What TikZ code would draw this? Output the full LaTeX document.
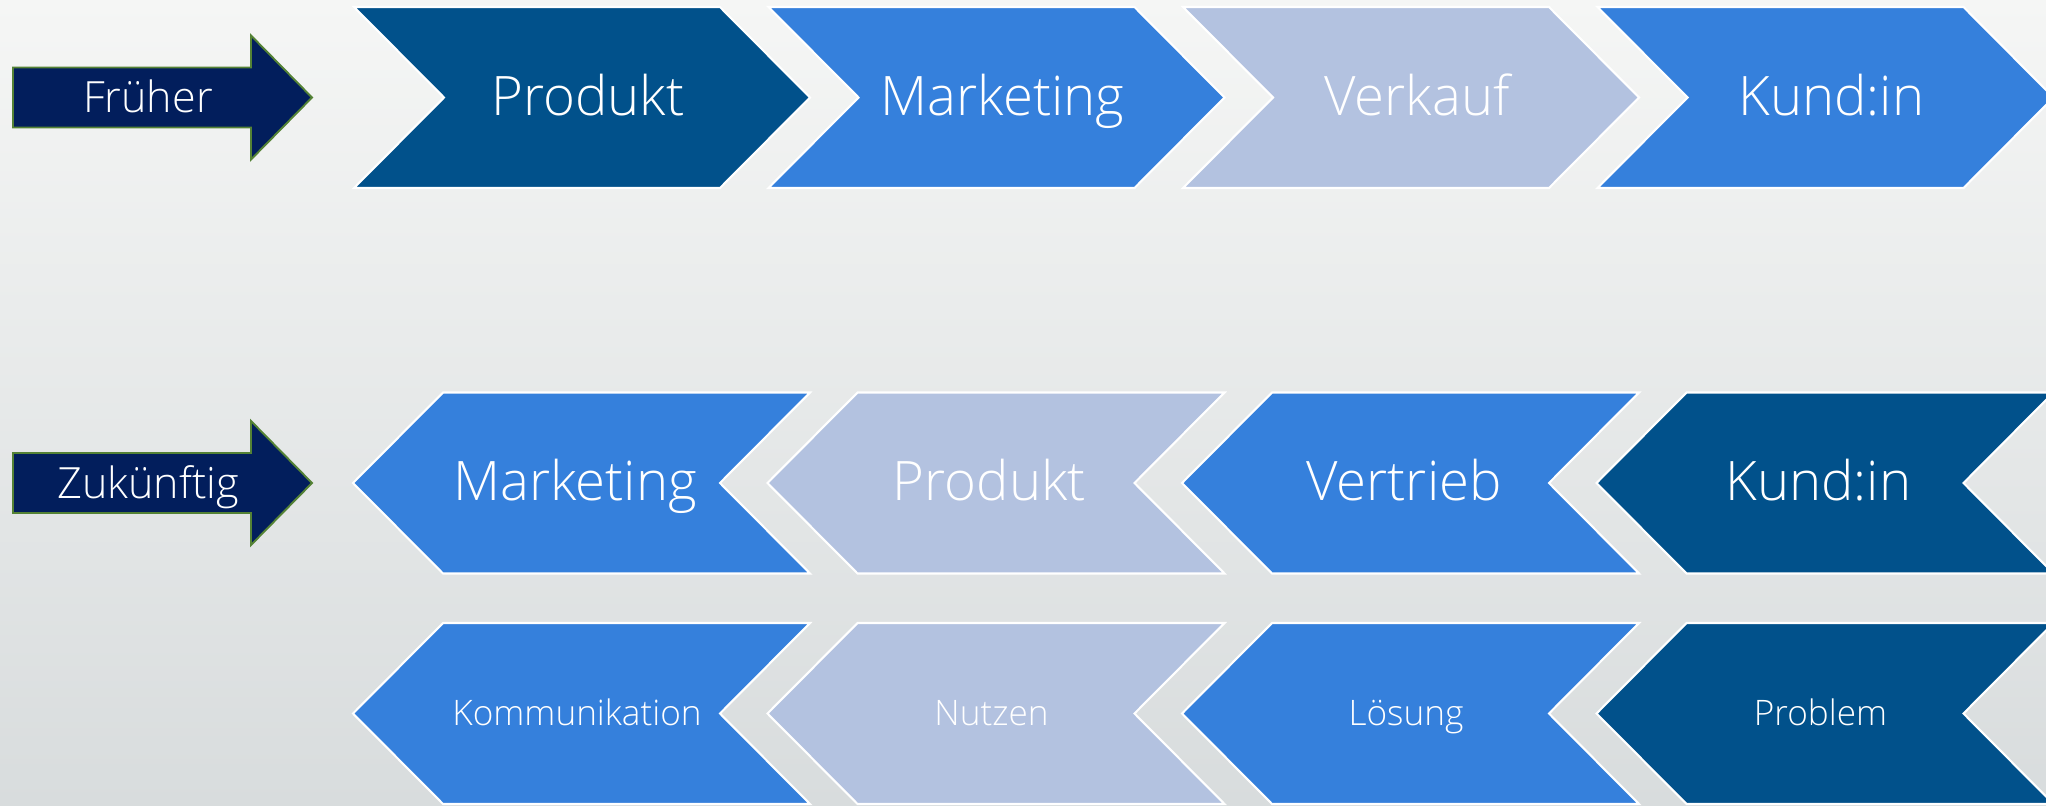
\documentclass[tikz,border=0pt]{standalone}
\usepackage{fontspec}
\setmainfont{Open Sans Light}

\definecolor{dunkel}{RGB}{1,81,139}
\definecolor{mittel}{RGB}{53,128,220}
\definecolor{hell}{RGB}{179,194,224}
\definecolor{marine}{RGB}{2,30,92}
\definecolor{gruen}{RGB}{84,130,53}
\definecolor{bgoben}{RGB}{245,246,245}
\definecolor{bgunten}{RGB}{216,220,221}

\tikzset{
  chevron/.style={draw=white, line width=1.2pt, line join=miter},
  pfeil/.style={fill=marine, draw=gruen, line width=1.1pt, line join=miter},
  gross/.style={text=white, font=\fontsize{31}{37}\selectfont, anchor=base, inner sep=0pt},
  klein/.style={text=white, font=\fontsize{20}{24}\selectfont, anchor=base, inner sep=0pt},
  seite/.style={text=white, font=\fontsize{24.5}{29}\selectfont, anchor=base, inner sep=0pt}
}

\begin{document}
\begin{tikzpicture}[x=0.02cm, y=-0.02cm]
  \clip (0,0) rectangle (2046,805);
  \shade[top color=bgoben, bottom color=bgunten] (0,0) rectangle (2046,805);

  % Pfeile links
  \foreach \y/\txt/\n in {97.5/Früher/frueher, 483/Zukünftig/zukunft}{
    \path[pfeil] (13,\y-30) -- (251,\y-30) -- (251,\y-62) -- (312,\y)
      -- (251,\y+62) -- (251,\y+30) -- (13,\y+30) -- cycle;
    \node[seite] (\n) at (148,\y+15) {\txt};
  }

  % frueher: nach rechts
  \foreach \i/\farbe/\txt in {0/dunkel/Produkt, 1/mittel/Marketing, 2/hell/Verkauf, 3/mittel/Kund:in}{
    \pgfmathsetmacro\L{354+414.5*\i}
    \path[chevron, fill=\farbe] (\L,7) -- ++(366,0) -- ++(90,90.5) -- ++(-90,90.5)
      -- ++(-366,0) -- ++(90,-90.5) -- cycle;
    \node[gross] (a\i) at (\L+234,115) {\txt};
  }

  % zukuenftig: nach links
  \foreach \i/\farbe/\txt in {0/mittel/Marketing, 1/hell/Produkt, 2/mittel/Vertrieb, 3/dunkel/Kund:in}{
    \pgfmathsetmacro\L{353+414.5*\i}
    \path[chevron, fill=\farbe] (\L,483) -- ++(90,-90.5) -- ++(367,0) -- ++(-90,90.5)
      -- ++(90,90.5) -- ++(-367,0) -- cycle;
    \node[gross] (b\i) at (\L+222,500) {\txt};
  }

  \foreach \i/\farbe/\txt in {0/mittel/Kommunikation, 1/hell/Nutzen, 2/mittel/Lösung, 3/dunkel/Problem}{
    \pgfmathsetmacro\L{353+414.5*\i}
    \path[chevron, fill=\farbe] (\L,713.5) -- ++(90,-90.5) -- ++(367,0) -- ++(-90,90.5)
      -- ++(90,90.5) -- ++(-367,0) -- cycle;
    \node[klein] (c\i) at (\L+224,725) {\txt};
  }
\end{tikzpicture}
\end{document}
